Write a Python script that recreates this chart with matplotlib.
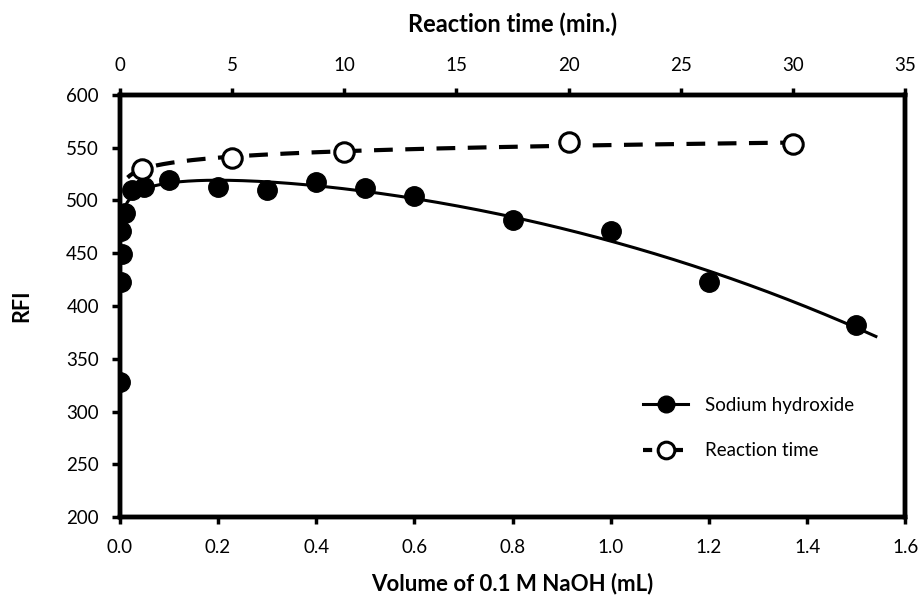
import matplotlib.pyplot as plt
import numpy as np

FONT = "Lato"
plt.rcParams["font.family"] = [FONT, "DejaVu Sans"]

# Sodium hydroxide series (bottom axis, mL)
naoh_volume = [0.0, 0.002, 0.005, 0.003, 0.01, 0.025, 0.05, 0.1, 0.2, 0.3,
               0.4, 0.5, 0.6, 0.8, 1.0, 1.2, 1.5]
naoh_rfi = [328, 423, 449, 471, 488, 510, 513, 519, 513, 510,
            517, 512, 504, 481, 471, 423, 382]

# Reaction time series (top axis, min)
time_min = [1, 5, 10, 20, 30]
time_rfi = [530, 540, 546, 555, 553]

fig = plt.figure(figsize=(9.21, 6), dpi=100)
ax = fig.add_axes([0.130, 0.138, 0.853, 0.704])
ax2 = ax.twiny()

# trend line for NaOH: log + cubic least squares
xv = np.array(naoh_volume)
yv = np.array(naoh_rfi)
m = xv >= 0.01
A = np.column_stack([np.ones(m.sum()), np.log(xv[m]), xv[m], xv[m] ** 2, xv[m] ** 3])
coef, *_ = np.linalg.lstsq(A, yv[m], rcond=None)
xf = np.linspace(0.004, 1.54, 400)
yf = (coef[0] + coef[1] * np.log(xf) + coef[2] * xf + coef[3] * xf ** 2
      + coef[4] * xf ** 3)
ax.plot(xf, yf, color="black", lw=2.2, zorder=2)
ax.plot(naoh_volume, naoh_rfi, "o", color="black", ms=14, zorder=3)

# log trend line for reaction time
tv = np.array(time_min, dtype=float)
b, a = np.polyfit(np.log(tv), np.array(time_rfi), 1)
tf = np.linspace(0.35, 30, 300)
ax2.plot(tf, a + b * np.log(tf), color="black", lw=3, ls=(0, (4.5, 3)), zorder=2)
ax2.plot(time_min, time_rfi, "o", mfc="white", mec="black", mew=2.2, ms=14, zorder=3)

ax.set_xlim(0, 1.6)
ax.set_ylim(200, 600)
ax2.set_xlim(0, 35)
ax.set_xticks(np.arange(0, 1.61, 0.2))
ax.set_xticklabels([f"{v:.1f}" for v in np.arange(0, 1.61, 0.2)])
ax.set_yticks(np.arange(200, 601, 50))
ax2.set_xticks(np.arange(0, 36, 5))

for a_ in (ax, ax2):
    for s in a_.spines.values():
        s.set_linewidth(3.2)
ax.tick_params(axis="x", direction="out", width=2.5, length=5, labelsize=13.5, pad=11)
ax.tick_params(axis="y", direction="out", width=2.5, length=6, labelsize=13.5, pad=9, right=False)
ax2.tick_params(axis="x", direction="out", width=2.5, length=5, labelsize=13.5, pad=10)

ax.set_xlabel("Volume of 0.1 M NaOH (mL)", fontsize=16, fontweight="bold", labelpad=12)
ax.set_ylabel("RFI", fontsize=15.5, fontweight="bold", labelpad=24)
ax2.set_xlabel("Reaction time (min.)", fontsize=17, fontweight="bold", labelpad=18)

h1 = plt.Line2D([], [], color="black", lw=2.2, marker="o", ms=12)
h2 = plt.Line2D([], [], color="black", lw=3, ls=(0, (2.2, 1.5)), marker="o",
                mfc="white", mec="black", mew=2.2, ms=12)
ax2.legend([h1, h2], ["Sodium hydroxide", "Reaction time"], loc="center left",
           bbox_to_anchor=(0.645, 0.211), frameon=False, fontsize=13.5,
           handlelength=2.4, handletextpad=0.9, labelspacing=1.5)

fig.savefig("out.png", dpi=100)
